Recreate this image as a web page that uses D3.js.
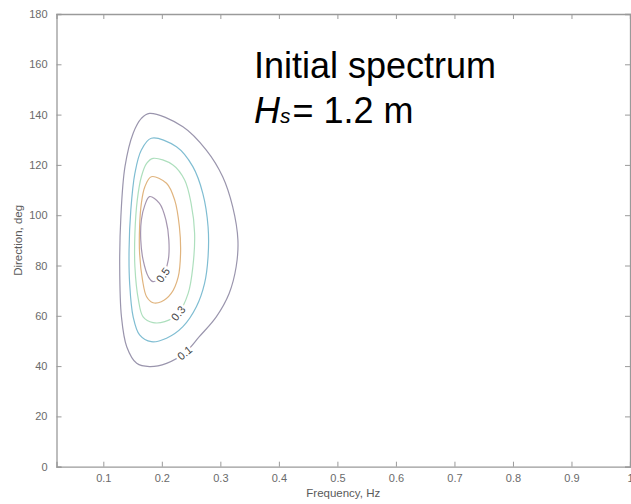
<!DOCTYPE html>
<html>
<head>
<meta charset="utf-8">
<script src="https://cdn.jsdelivr.net/npm/d3@7"></script>
<style>
  html, body { margin: 0; padding: 0; background: #fff; }
  svg { display: block; }
  .tick-label { font-family: "Liberation Sans", Arial, sans-serif; font-size: 11px; fill: #6a6a6a; }
  .axis-title { font-family: "Liberation Sans", Arial, sans-serif; font-size: 11.5px; fill: #5a5a5a; }
  .clabel { font-family: "Liberation Sans", Arial, sans-serif; font-size: 11px; fill: #444; }
  .note { font-family: "Liberation Sans", Arial, sans-serif; fill: #000; }
</style>
</head>
<body>
<svg id="chart" width="631" height="504"></svg>
<script>
// Axis ticks
const freqTicks = [0.1, 0.2, 0.3, 0.4, 0.5, 0.6, 0.7, 0.8, 0.9, 1];
const dirTicks = [0, 20, 40, 60, 80, 100, 120, 140, 160, 180];

// Contour levels of the normalised directional spectrum
const levels = [0.1, 0.2, 0.3, 0.4, 0.5];

// Contour outlines, [frequency (Hz), direction (deg)]
const level01 = [
  [0.179, 140.5], [0.236, 135.2], [0.276, 125.9], [0.304, 115.3], [0.321, 103.4],
  [0.330, 90.1], [0.327, 79.5], [0.315, 68.9], [0.293, 59.6], [0.264, 51.7],
  [0.239, 45.2], [0.208, 41.1], [0.179, 39.8], [0.157, 41.1], [0.140, 47.7],
  [0.131, 59.6], [0.128, 79.5], [0.130, 99.4], [0.137, 119.3], [0.151, 132.6],
  [0.165, 138.5]
];
const level02 = [
  [0.182, 130.6], [0.225, 127.2], [0.253, 119.3], [0.270, 108.7], [0.279, 95.4],
  [0.279, 83.5], [0.273, 72.9], [0.259, 63.6], [0.236, 55.7], [0.208, 51.1],
  [0.182, 49.7], [0.162, 52.4], [0.151, 59.6], [0.145, 72.9], [0.144, 86.2],
  [0.147, 102.1], [0.154, 116.7], [0.165, 125.9]
];
const level03 = [
  [0.185, 122.6], [0.219, 120.0], [0.239, 114.0], [0.250, 104.7], [0.256, 92.8],
  [0.253, 79.5], [0.245, 68.9], [0.228, 61.0], [0.205, 57.7], [0.185, 57.3],
  [0.168, 59.6], [0.160, 66.3], [0.154, 79.5], [0.154, 92.8], [0.158, 106.0],
  [0.165, 115.3], [0.174, 120.6]
];
const level04 = [
  [0.182, 115.3], [0.208, 112.7], [0.222, 106.0], [0.230, 95.4], [0.232, 84.9],
  [0.228, 75.5], [0.216, 68.9], [0.199, 65.6], [0.185, 65.2], [0.174, 67.6],
  [0.167, 74.2], [0.162, 84.9], [0.162, 95.4], [0.165, 104.7], [0.171, 111.3]
];
const level05 = [
  [0.179, 107.4], [0.196, 104.7], [0.207, 98.1], [0.212, 90.1], [0.211, 82.2],
  [0.202, 76.2], [0.185, 73.6], [0.177, 75.5], [0.168, 82.2], [0.164, 90.1],
  [0.165, 98.1], [0.171, 104.0]
];
const outlines = [level01, level02, level03, level04, level05];
const levelColors = ["#9a95ad", "#7fbdd2", "#addfbd", "#e0b47e", "#a596b0"];

// Inline labels: which level, and the outline vertex they sit on
const labelLevels = [0.5, 0.3, 0.1];
const labelVertex = [5, 7, 10];

const svg = d3.select("#chart");
const W = 631, H = 504;
const mLeft = 56.5, mRight = 630, mTop = 14, mBottom = 466.7;

const x = d3.scaleLinear().domain([0.02, 1.0]).range([mLeft, mRight]);
const y = d3.scaleLinear().domain([0, 180]).range([mBottom, mTop]);

svg.append("rect").attr("width", W).attr("height", H).attr("fill", "#fff");

// Contour lines
const line = d3.line()
  .x(d => x(d[0]))
  .y(d => y(d[1]))
  .curve(d3.curveCatmullRomClosed.alpha(0.5));

const plot = svg.append("g");
plot.selectAll("path.contour")
  .data(outlines)
  .join("path")
  .attr("class", "contour")
  .attr("d", d => line(d))
  .attr("fill", "none")
  .attr("stroke", (d, i) => levelColors[i])
  .attr("stroke-width", 1.2);

// Contour labels, oriented along the line
labelLevels.forEach((lv, k) => {
  const pts = outlines[levels.indexOf(lv)];
  const i = labelVertex[k];
  const p = pts[i];
  const a = pts[(i - 1 + pts.length) % pts.length];
  const b = pts[(i + 1) % pts.length];
  let ang = Math.atan2(y(b[1]) - y(a[1]), x(b[0]) - x(a[0])) * 180 / Math.PI;
  if (ang > 90) ang -= 180;
  if (ang < -90) ang += 180;
  plot.append("text")
    .attr("class", "clabel")
    .attr("transform", `translate(${x(p[0])},${y(p[1])}) rotate(${ang})`)
    .attr("text-anchor", "middle")
    .attr("dy", "0.35em")
    .attr("stroke", "#fff")
    .attr("stroke-width", 5)
    .attr("paint-order", "stroke")
    .text(lv);
});

// Axes box with inward ticks
const axisColor = "#9a9a9a";
const tickLen = 5;
const xAxisB = d3.axisBottom(x).tickValues(freqTicks).tickSize(-tickLen).tickPadding(8)
  .tickFormat(d => d === 1 ? "1" : d3.format(".1f")(d));
const xAxisT = d3.axisTop(x).tickValues(freqTicks).tickSize(-tickLen).tickFormat("");
const yAxisL = d3.axisLeft(y).tickValues(dirTicks).tickSize(-tickLen).tickPadding(9);
const yAxisR = d3.axisRight(y).tickValues(dirTicks).tickSize(-tickLen).tickFormat("");

function styleAxis(g) {
  g.select(".domain").attr("stroke", axisColor).attr("stroke-width", 1.3);
  g.selectAll(".tick line").attr("stroke", axisColor);
  g.selectAll(".tick text").attr("class", "tick-label").attr("fill", null);
  g.attr("font-family", null).attr("font-size", null);
}
svg.append("g").attr("transform", `translate(0,${mBottom})`).call(xAxisB).call(styleAxis);
svg.append("g").attr("transform", `translate(0,${mTop})`).call(xAxisT).call(styleAxis);
svg.append("g").attr("transform", `translate(${mLeft},0)`).call(yAxisL).call(styleAxis);
svg.append("g").attr("transform", `translate(${mRight},0)`).call(yAxisR).call(styleAxis);

// Axis titles
svg.append("text").attr("class", "axis-title")
  .attr("x", (mLeft + mRight) / 2).attr("y", 497)
  .attr("text-anchor", "middle").text("Frequency, Hz");
svg.append("text").attr("class", "axis-title")
  .attr("transform", `translate(22,${(mTop + mBottom) / 2}) rotate(-90)`)
  .attr("text-anchor", "middle").text("Direction, deg");

// Annotation
svg.append("text").attr("class", "note")
  .attr("x", 254).attr("y", 78).attr("font-size", 36)
  .text("Initial spectrum");
const hs = svg.append("text").attr("class", "note")
  .attr("x", 254).attr("y", 122.5).attr("font-size", 36);
hs.append("tspan").attr("font-style", "italic").text("H");
hs.append("tspan").attr("font-style", "italic").attr("font-size", 21).text("s");
hs.append("tspan").attr("dx", 2).text("= 1.2 m");
</script>
</body>
</html>
